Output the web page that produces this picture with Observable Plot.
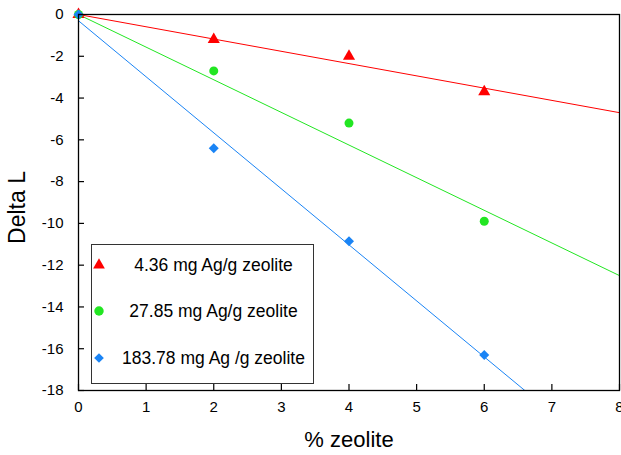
<!DOCTYPE html>
<html><head><meta charset="utf-8">
<script src="https://cdn.jsdelivr.net/npm/d3@7"></script>
<script src="https://cdn.jsdelivr.net/npm/@observablehq/plot@0.6"></script>
<style>
body{margin:0;background:#fff;font-family:"Liberation Sans",Arial,sans-serif;}
#wrap{position:relative;width:621px;height:455px;}
#legend{position:absolute;left:91px;top:244px;width:221px;height:138px;border:1px solid #333;background:#fff;}
.ent{position:absolute;left:0;width:221px;height:20px;}
.ent svg{position:absolute;left:-1px;top:0;}
.ent span{position:absolute;left:22px;right:0;text-align:center;font-size:17.5px;line-height:20px;color:#000;white-space:nowrap;}
</style></head>
<body><div id="wrap"><div id="legend"></div></div>
<script>
const xValues = [0, 2, 4, 6];
const seriesNames = ["4.36 mg Ag/g zeolite", "27.85 mg Ag/g zeolite", "183.78 mg Ag /g zeolite"];
const redY = [0, -1.2, -2.0, -3.7];
const greenY = [0, -2.7, -5.2, -9.9];
const blueY = [0, -6.4, -10.85, -16.3];
// fitted line endpoints
const redFitX = [0, 8], redFitY = [0, -4.7];
const greenFitX = [0, 8], greenFitY = [0, -12.5];
const blueFitX = [0, 6.6], blueFitY = [-0.3, -18];
const xTicks = [0, 1, 2, 3, 4, 5, 6, 7, 8];
const yTicks = [0, -2, -4, -6, -8, -10, -12, -14, -16, -18];

const colors = ["#ff0000", "#22e622", "#1a84f5"];
const symbols = ["triangle", "circle", "diamond2"];
const ys = [redY, greenY, blueY];
const fits = [[redFitX, redFitY], [greenFitX, greenFitY], [blueFitX, blueFitY]];

const points = ys.flatMap((arr, s) => arr.map((y, i) => ({x: xValues[i], y, s})));
const fitData = fits.flatMap(([fx, fy], s) => fx.map((x, i) => ({x, y: fy[i], s})));

const W = 621, H = 455, ML = 78, MR = 2, MT = 14, MB = 65;
const TICK = 6;
const xDom = [0, 8], yDom = [-18, 0];

const plot = Plot.plot({
  width: W, height: H,
  marginLeft: ML, marginRight: MR, marginTop: MT, marginBottom: MB,
  style: {fontFamily: '"Liberation Sans", Arial, sans-serif', fontSize: "15px", color: "#000", background: "#fff"},
  x: {domain: xDom},
  y: {domain: yDom},
  marks: [
    Plot.line(fitData, {x: "x", y: "y", z: "s", stroke: d => colors[d.s], strokeWidth: 1, clip: true}),
    Plot.dot(points, {x: "x", y: "y", symbol: d => symbols[d.s], fill: d => colors[d.s], r: 4.5}),
    Plot.axisX(xTicks, {anchor: "bottom", tickSize: TICK, dy: -TICK, stroke: "#000", strokeWidth: 1.2, strokeOpacity: 1, tickFormat: () => "", label: null}),
    Plot.axisY(yTicks, {anchor: "left", tickSize: TICK, dx: TICK, stroke: "#000", strokeWidth: 1.2, strokeOpacity: 1, tickFormat: () => "", label: null}),
    Plot.axisX(xTicks, {tickSize: 0, tickPadding: 11, label: null, fontSize: 15, tickFormat: d => String(d)}),
    Plot.axisY(yTicks, {tickSize: 0, tickPadding: 15, label: null, fontSize: 15, tickFormat: d => String(d)}),
    Plot.frame({stroke: "#000", strokeWidth: 1.3}),
    Plot.text(["Delta L"], {frameAnchor: "left", textAnchor: "middle", dx: -61, dy: 5, rotate: -90, fontSize: 23, fill: "#000"}),
    Plot.text(["% zeolite"], {frameAnchor: "bottom", textAnchor: "middle", dy: 56, fontSize: 22, fill: "#000"})
  ]
});
plot.setAttribute("overflow", "visible");
document.getElementById("wrap").prepend(plot);

const legend = document.getElementById("legend");
const entryTops = [10, 56, 103];
const NS = "http://www.w3.org/2000/svg";
seriesNames.forEach((name, s) => {
  const ent = document.createElement("div");
  ent.className = "ent";
  ent.style.top = entryTops[s] + "px";
  const svg = document.createElementNS(NS, "svg");
  svg.setAttribute("width", 16); svg.setAttribute("height", 20);
  const p = document.createElementNS(NS, "path");
  p.setAttribute("transform", "translate(8,10)");
  p.setAttribute("d", d3.symbol(s === 0 ? d3.symbolTriangle : s === 1 ? d3.symbolCircle : d3.symbolDiamond2, s === 1 ? 70 : 60)());
  p.setAttribute("fill", colors[s]);
  svg.appendChild(p);
  const sp = document.createElement("span");
  sp.textContent = name;
  ent.appendChild(svg); ent.appendChild(sp);
  legend.appendChild(ent);
});
</script></body></html>
